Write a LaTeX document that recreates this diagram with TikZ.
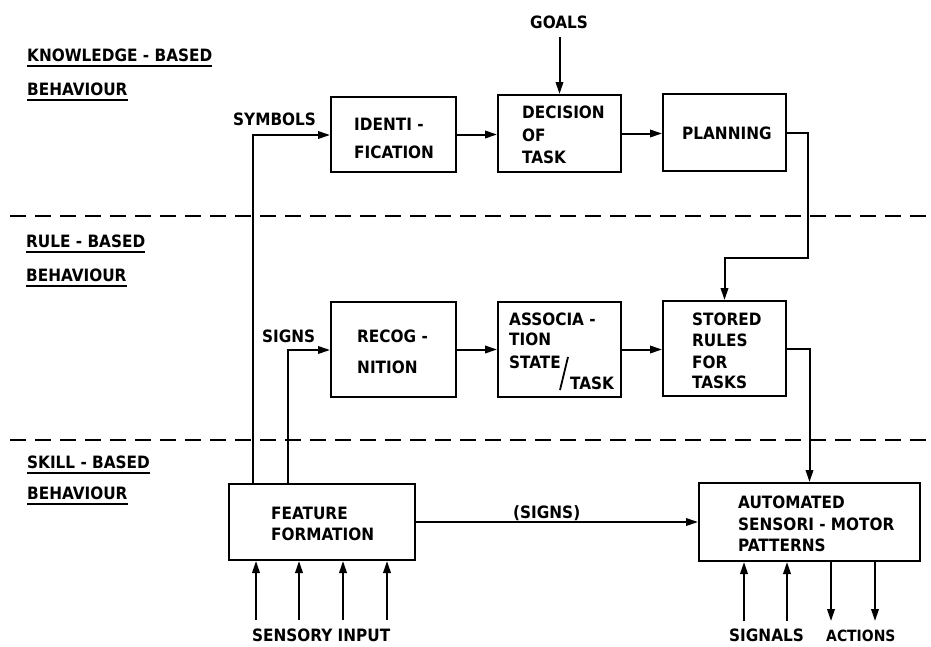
\documentclass[tikz,border=0pt]{standalone}
\usepackage{fontspec}
\setmainfont{DejaVu Sans Condensed}
\usetikzlibrary{arrows.meta}
\begin{document}
\begin{tikzpicture}[x=1pt,y=-1pt,
  box/.style={draw,line width=2pt,inner sep=0},
  lbl/.style={anchor=base west,inner sep=0,font=\bfseries\fontsize{17}{17}\selectfont},
  arr/.style={line width=2pt,-{Triangle[length=12pt,width=7.5pt]}},
  sep/.style={line width=2pt,dash pattern=on 16pt off 9pt},
  ul/.style={line width=2pt}]
\useasboundingbox (0,0) rectangle (931,646);
% level separators
\draw[sep] (10,216) -- (931,216);
\draw[sep] (10,440) -- (931,440);
% level titles
\node[lbl] (kb1) at (27,61) {KNOWLEDGE - BASED};
\node[lbl] (kb2) at (27,95) {BEHAVIOUR};
\node[lbl] (rb1) at (26,247) {RULE - BASED};
\node[lbl] (rb2) at (26,281) {BEHAVIOUR};
\node[lbl] (sb1) at (27,468) {SKILL - BASED};
\node[lbl] (sb2) at (27,499) {BEHAVIOUR};
\foreach \n in {kb1,kb2,rb1,rb2,sb1,sb2}
  \draw[ul] ([yshift=-5pt]\n.base west) -- ([yshift=-5pt]\n.base east);
% boxes
\node[box,minimum width=125pt,minimum height=75pt] (ident) at (393.5,134.5) {};
\node[box,minimum width=123pt,minimum height=77pt] (decision) at (559.5,133.5) {};
\node[box,minimum width=123pt,minimum height=77pt] (planning) at (724.5,132.5) {};
\node[box,minimum width=125pt,minimum height=95pt] (recog) at (393.5,349.5) {};
\node[box,minimum width=123pt,minimum height=95pt] (assoc) at (559.5,349.5) {};
\node[box,minimum width=123pt,minimum height=95pt] (stored) at (724.5,348.5) {};
\node[box,minimum width=186pt,minimum height=76pt] (feature) at (322,522) {};
\node[box,minimum width=221pt,minimum height=78pt] (auto) at (809.5,522) {};
% box texts
\node[lbl] (t1) at (354,130) {IDENTI -};
\node[lbl] (t2) at (354,158) {FICATION};
\node[lbl] (t3) at (522,118) {DECISION};
\node[lbl] (t4) at (522,141) {OF};
\node[lbl] (t5) at (522,163) {TASK};
\node[lbl] (t6) at (682,139) {PLANNING};
\node[lbl] (t7) at (357,342) {RECOG -};
\node[lbl] (t8) at (357,373) {NITION};
\node[lbl] (t9) at (509,325) {ASSOCIA -};
\node[lbl] (t10) at (509,345) {TION};
\node[lbl] (t11) at (509,368) {STATE};
\node[lbl] (t12) at (570,389) {TASK};
\draw[line width=1.8pt] (560,390) -- (568,357);
\node[lbl] (t13) at (692,325) {STORED};
\node[lbl] (t14) at (692,346) {RULES};
\node[lbl] (t15) at (692,368) {FOR};
\node[lbl] (t16) at (692,388) {TASKS};
\node[lbl] (t17) at (271,519) {FEATURE};
\node[lbl] (t18) at (271,540) {FORMATION};
\node[lbl] (t19) at (738,508) {AUTOMATED};
\node[lbl] (t20) at (738,530) {SENSORI - MOTOR};
\node[lbl] (t21) at (738,551) {PATTERNS};
% connector labels
\node[lbl] (goals) at (530,28) {GOALS};
\node[lbl] (symbols) at (233,125) {SYMBOLS};
\node[lbl] (signs) at (262,342) {SIGNS};
\node[lbl] (signs2) at (513,518) {(SIGNS)};
\node[lbl] (sensory) at (252,641) {SENSORY INPUT};
\node[lbl] (signals) at (729,641) {SIGNALS};
\node[lbl,font=\bfseries\fontsize{15.5}{15.5}\selectfont] (actions) at (826,641) {ACTIONS};
% connectors
\coordinate (g) at (559.5,37);
\draw[arr] (g) -- (decision.north);
\coordinate (sy) at (253,135);
\draw[arr] (feature.north -| sy) -- (sy) -- (sy -| ident.west);
\coordinate (sg) at (288,350);
\draw[arr] (feature.north -| sg) -- (sg) -- (sg -| recog.west);
\draw[arr] (ident.east) -- (ident.east -| decision.west);
\draw[arr] (decision.east) -- (decision.east -| planning.west);
\draw[arr] (recog.east) -- (recog.east -| assoc.west);
\draw[arr] (assoc.east) -- (assoc.east -| stored.west);
\coordinate (pl) at (808,258);
\draw[arr] (planning.east) -| (pl) -| (stored.north);
\draw[arr] (stored.east) -| (auto.north);
\draw[arr] (feature.east) -- (feature.east -| auto.west);
\foreach \x [count=\i] in {256,299,343,387} {
  \coordinate (s\i) at (\x,620);
  \draw[arr] (s\i) -- (s\i |- feature.south);
}
\foreach \x [count=\i] in {744,787} {
  \coordinate (in\i) at (\x,621);
  \draw[arr] (in\i) -- (in\i |- auto.south);
}
\foreach \x [count=\i] in {831,875} {
  \coordinate (out\i) at (\x,621);
  \draw[arr] (out\i |- auto.south) -- (out\i);
}
\end{tikzpicture}
\end{document}
